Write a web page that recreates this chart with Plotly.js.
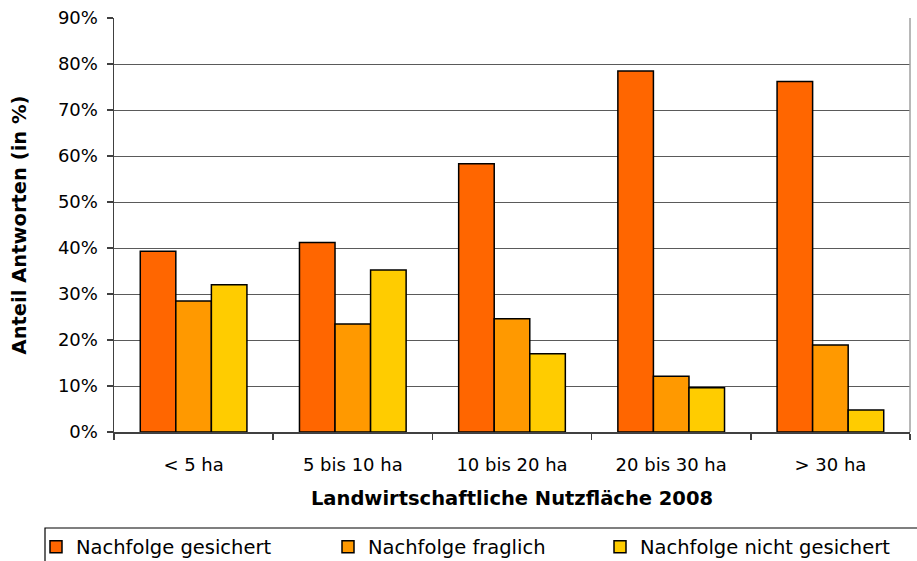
<!DOCTYPE html>
<html>
<head>
<meta charset="utf-8">
<script src="https://cdn.plot.ly/plotly-3.0.1.min.js"></script>
<style>html,body{margin:0;padding:0;background:#fff;}#chart{width:917px;height:561px;}</style>
</head>
<body>
<div id="chart"></div>
<script>
const categories = ["< 5 ha", "5 bis 10 ha", "10 bis 20 ha", "20 bis 30 ha", "> 30 ha"];
const seriesNames = ["Nachfolge gesichert", "Nachfolge fraglich", "Nachfolge nicht gesichert"];
const gesichert = [39.3, 41.2, 58.3, 78.5, 76.2];
const fraglich = [28.5, 23.5, 24.6, 12.1, 18.9];
const nichtGesichert = [32.0, 35.2, 17.0, 9.6, 4.8];
const yTickVals = [0, 10, 20, 30, 40, 50, 60, 70, 80, 90];
const yTickText = ["0%", "10%", "20%", "30%", "40%", "50%", "60%", "70%", "80%", "90%"];

const colors = ["#FF6600", "#FF9900", "#FFCC00"];
const values = [gesichert, fraglich, nichtGesichert];
const legendIds = ["legend", "legend2", "legend3"];
const font = "DejaVu Sans, Verdana, sans-serif";

const traces = values.map((v, i) => ({
  type: "bar",
  name: seriesNames[i],
  x: categories,
  y: v,
  legend: legendIds[i],
  marker: { color: colors[i], line: { color: "#000000", width: 1.5 } },
  hoverinfo: "none"
}));

const textStarts = [76, 368, 640];
function legendAt(px) {
  return {
    x: (px - 40) / 917, xref: "container", xanchor: "left",
    y: 1 - 547 / 561, yref: "container", yanchor: "middle",
    orientation: "h", bgcolor: "rgba(0,0,0,0)", borderwidth: 0,
    font: { family: font, size: 19.5, color: "#000" }
  };
}

const layout = {
  width: 917, height: 561,
  margin: { l: 114, r: 7, t: 18, b: 129 },
  paper_bgcolor: "#ffffff", plot_bgcolor: "#ffffff",
  font: { family: font, color: "#000" },
  barmode: "group", bargap: 0.33, bargroupgap: 0,
  showlegend: true,
  legend: legendAt(textStarts[0]),
  legend2: legendAt(textStarts[1]),
  legend3: legendAt(textStarts[2]),
  xaxis: {
    type: "category",
    showline: true, linecolor: "#404040", linewidth: 1.5,
    ticks: "outside", tickson: "boundaries", ticklen: 6, tickcolor: "#404040", tickwidth: 1.5,
    tickfont: { family: font, size: 18, color: "#000" },
    ticklabelstandoff: 16,
    showgrid: false, zeroline: false,
    title: { text: "<b>Landwirtschaftliche Nutzfläche 2008</b>", font: { family: font, size: 19.5, color: "#000" }, standoff: 17 }
  },
  yaxis: {
    range: [0, 90], tickvals: yTickVals, ticktext: yTickText,
    showline: true, linecolor: "#404040", linewidth: 1.5,
    ticks: "outside", ticklen: 6, tickcolor: "#404040", tickwidth: 1.5,
    tickfont: { family: font, size: 18, color: "#000" },
    ticklabelstandoff: 5,
    showgrid: true, gridcolor: "#5a5a5a", gridwidth: 1,
    zeroline: false,
    title: { text: "<b>Anteil Antworten (in %)</b>", font: { family: font, size: 19.5, color: "#000" }, standoff: 26 }
  },
  shapes: [
    { type: "line", xref: "paper", yref: "paper", x0: 1, x1: 1, y0: 0, y1: 1, line: { color: "#a0a0a0", width: 1.5 } },
    { type: "rect", xref: "paper", yref: "paper", x0: (45 - 114) / 796, x1: 1.2, y0: (432 - 528) / 414, y1: -0.5, line: { color: "#000", width: 1.2 }, fillcolor: "rgba(0,0,0,0)" }
  ]
};

Plotly.newPlot("chart", traces, layout, { staticPlot: true, displayModeBar: false });
</script>
</body>
</html>
